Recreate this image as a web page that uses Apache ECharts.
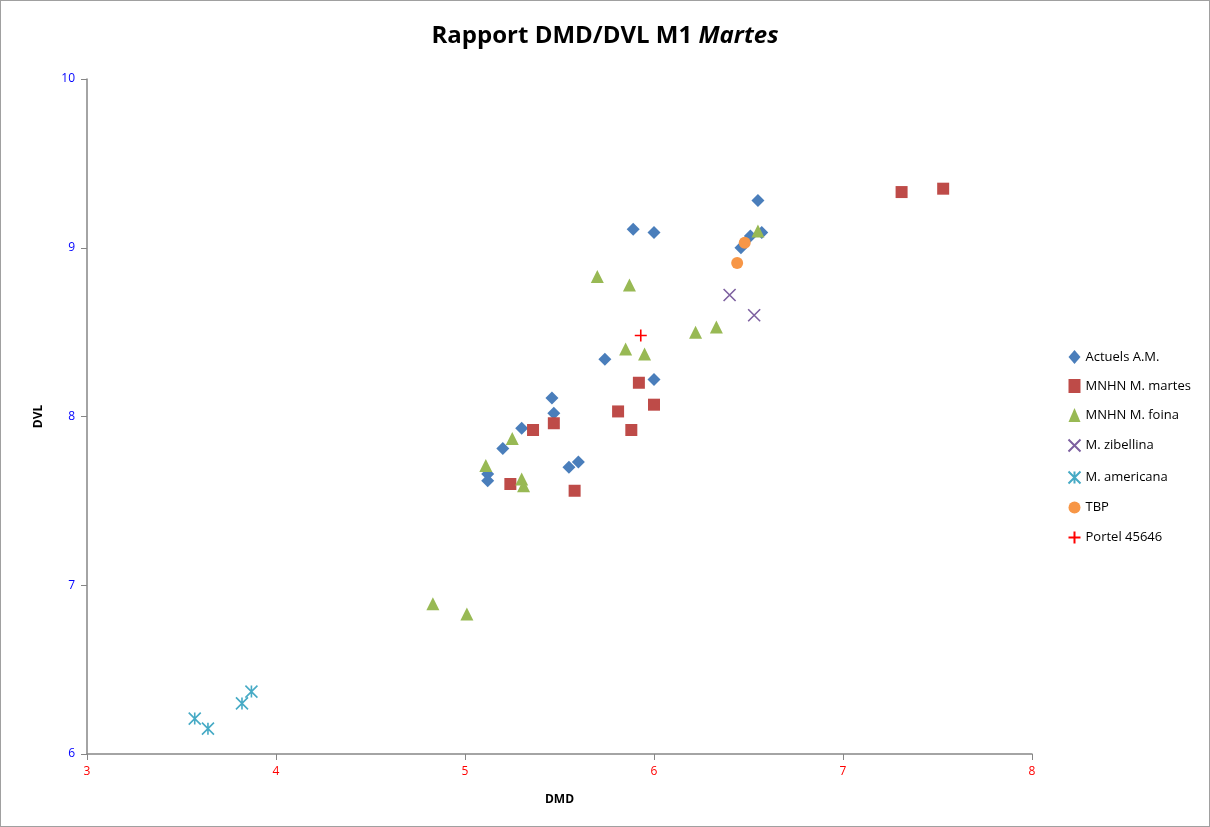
<!DOCTYPE html>
<html>
<head>
<meta charset="utf-8">
<script src="https://cdn.jsdelivr.net/npm/echarts@6/dist/echarts.min.js"></script>
<style>
  html, body { margin: 0; padding: 0; background: #fff; }
  #chart { width: 1208px; height: 825px; border: 1px solid #a0a0a0; }
</style>
</head>
<body>
<div id="chart"></div>
<script>
// [DMD, DVL]
let actuels = [
  [5.89, 9.11], [6.00, 9.09], [6.55, 9.28], [6.57, 9.09], [6.51, 9.07], [6.46, 9.00],
  [5.74, 8.34], [6.00, 8.22], [5.46, 8.11], [5.47, 8.02], [5.30, 7.93], [5.20, 7.81],
  [5.12, 7.66], [5.12, 7.62], [5.55, 7.70], [5.60, 7.73]
]
let mnhnMartes = [
  [5.36, 7.92], [5.47, 7.96], [5.24, 7.60], [5.58, 7.56], [5.92, 8.20], [5.81, 8.03],
  [6.00, 8.07], [5.88, 7.92], [7.31, 9.33], [7.53, 9.35]
]
let mnhnFoina = [
  [5.70, 8.83], [5.87, 8.78], [6.55, 9.10], [6.22, 8.50], [6.33, 8.53], [5.85, 8.40],
  [5.95, 8.37], [5.25, 7.87], [5.11, 7.71], [5.30, 7.63], [5.31, 7.59], [4.83, 6.89],
  [5.01, 6.83]
]
let zibellina = [[6.40, 8.72], [6.53, 8.60]]
let americana = [[3.57, 6.21], [3.64, 6.15], [3.82, 6.30], [3.87, 6.37]]
let tbp = [[6.48, 9.03], [6.44, 8.91]]
let portel = [[5.93, 8.48]]

let seriesNames = ['Actuels A.M.', 'MNHN M. martes', 'MNHN M. foina', 'M. zibellina', 'M. americana', 'TBP', 'Portel 45646']

const crossPath = 'path://M0,0L10,10M10,0L0,10'
const starPath = 'path://M0,0L10,10M10,0L0,10M5,0L5,10'
const plusPath = 'path://M5,0L5,10M0,5L10,5'

function lineSymbol(name, data, path, color, size) {
  return {
    name: name,
    type: 'scatter',
    data: data,
    symbol: path,
    symbolSize: size,
    symbolKeepAspect: true,
    itemStyle: { color: 'none', borderColor: color, borderWidth: 1.6, opacity: 1 }
  }
}

function filledSymbol(name, data, symbol, color, size) {
  return {
    name: name,
    type: 'scatter',
    data: data,
    symbol: symbol,
    symbolSize: size,
    itemStyle: { color: color, opacity: 1 }
  }
}

var myChart = echarts.init(document.getElementById('chart'))
var option = {
  animation: false,
  title: {
    text: '{b|Rapport DMD/DVL M1 }{i|Martes}',
    left: 'center',
    top: 18,
    textStyle: {
      rich: {
        b: { fontFamily: 'Open Sans', fontWeight: 'bold', fontSize: 24, color: '#000' },
        i: { fontFamily: 'Open Sans', fontWeight: 'bold', fontStyle: 'italic', fontSize: 24, color: '#000' }
      }
    }
  },
  grid: { left: 86, right: 177, top: 78, bottom: 72 },
  legend: {
    orient: 'vertical',
    left: 1060,
    top: 344,
    itemGap: 15,
    itemWidth: 12,
    itemHeight: 14,
    textStyle: { fontFamily: 'Open Sans', fontSize: 13, color: '#000' },
    data: seriesNames
  },
  xAxis: {
    type: 'value',
    min: 3,
    max: 8,
    interval: 1,
    name: 'DMD',
    nameLocation: 'middle',
    nameGap: 40,
    nameTextStyle: { fontFamily: 'Open Sans', fontWeight: 'bold', fontSize: 12, color: '#000' },
    axisLine: { show: true, lineStyle: { color: '#868686', width: 1.5 } },
    axisTick: { show: true, inside: false, length: 6, lineStyle: { color: '#868686' } },
    axisLabel: { color: '#ff0000', fontFamily: 'Open Sans', fontSize: 12, margin: 12 },
    splitLine: { show: false }
  },
  yAxis: {
    type: 'value',
    min: 6,
    max: 10,
    interval: 1,
    name: 'DVL',
    nameLocation: 'middle',
    nameGap: 42,
    nameTextStyle: { fontFamily: 'Open Sans', fontWeight: 'bold', fontSize: 12, color: '#000' },
    axisLine: { show: true, lineStyle: { color: '#868686', width: 1.5 } },
    axisTick: { show: true, length: 6, lineStyle: { color: '#868686' } },
    axisLabel: { color: '#0000ff', fontFamily: 'Open Sans', fontSize: 12, margin: 12 },
    splitLine: { show: false }
  },
  series: [
    filledSymbol(seriesNames[0], actuels, 'diamond', '#4A7EBB', 13),
    filledSymbol(seriesNames[1], mnhnMartes, 'rect', '#BE4B48', 12),
    filledSymbol(seriesNames[2], mnhnFoina, 'triangle', '#98B954', 13),
    lineSymbol(seriesNames[3], zibellina, crossPath, '#7D60A0', 12),
    lineSymbol(seriesNames[4], americana, starPath, '#46AAC5', 12),
    filledSymbol(seriesNames[5], tbp, 'circle', '#F79646', 12),
    lineSymbol(seriesNames[6], portel, plusPath, '#ff0000', 12)
  ]
}
myChart.setOption(option)
window.addEventListener('resize', function() {
  myChart.resize()
})
</script>
</body>
</html>
